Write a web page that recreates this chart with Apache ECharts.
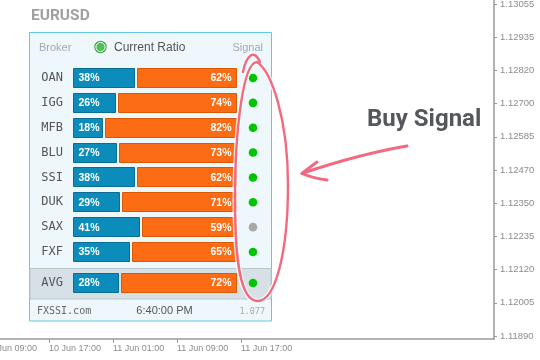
<!DOCTYPE html>
<html><head><meta charset="utf-8">
<script src="https://cdn.jsdelivr.net/npm/echarts@6/dist/echarts.min.js"></script>
<style>html,body{margin:0;padding:0;background:#fff}#c{width:540px;height:360px}</style>
</head><body><div id="c"></div>
<script>
// ---- data ----
const symbol = 'EURUSD';
const brokers = ['OAN', 'IGG', 'MFB', 'BLU', 'SSI', 'DUK', 'SAX', 'FXF'];
const longPct = [38, 26, 18, 27, 38, 29, 41, 35];
const shortPct = [62, 74, 82, 73, 62, 71, 59, 65];
const signals = ['buy', 'buy', 'buy', 'buy', 'buy', 'buy', 'neutral', 'buy'];
const avgLabel = ['AVG'];
const avgLong = [28];
const avgShort = [72];
const avgSignal = ['buy'];
const priceTicks = ['1.11890', '1.12005', '1.12120', '1.12235', '1.12350', '1.12470', '1.12585', '1.12700', '1.12820', '1.12935', '1.13055'];
const timeTicks = ['10 Jun 09:00', '10 Jun 17:00', '11 Jun 01:00', '11 Jun 09:00', '11 Jun 17:00'];
const footer = { site: 'FXSSI.com', time: '6:40:00 PM', version: '1.077' };

const signalColor = { buy: '#00c400', neutral: '#a8a8a8', sell: '#e03020' };

function makeRender(longArr, shortArr, sigArr) {
  return function (params, api) {
    const i = params.dataIndex;
    const cat = api.value(1);
    const p = api.value(0);
    const c0 = api.coord([0, cat]);
    const cp = api.coord([p, cat]);
    const c1 = api.coord([p + shortArr[i], cat]);
    const h = 20, gap = 3;
    const y = Math.round(c0[1] - h / 2) + 0.5;
    const x0 = Math.round(c0[0]) + 0.5;
    const xp = Math.round(cp[0]) + 0.5;
    const x1 = Math.round(c1[0]) + gap + 0.5;
    return {
      type: 'group',
      children: [
        { type: 'rect', shape: { x: x0, y: y, width: xp - x0, height: h - 1 },
          style: { fill: '#0b8cba', stroke: '#0a6d92', lineWidth: 1 } },
        { type: 'rect', shape: { x: xp + gap, y: y, width: x1 - xp - gap, height: h - 1 },
          style: { fill: '#fb6c14', stroke: '#d85a05', lineWidth: 1 } },
        { type: 'text', style: { text: longArr[i] + '%', x: x0 + 5, y: c0[1] + 0.5,
          fill: '#fff', font: 'bold 10.5px "Liberation Sans", Arial, sans-serif',
          textAlign: 'left', textVerticalAlign: 'middle' } },
        { type: 'text', style: { text: shortArr[i] + '%', x: x1 - 5, y: c0[1] + 0.5,
          fill: '#fff', font: 'bold 10.5px "Liberation Sans", Arial, sans-serif',
          textAlign: 'right', textVerticalAlign: 'middle' } },
        { type: 'circle', shape: { cx: 253, cy: c0[1], r: 4.3 },
          style: { fill: signalColor[sigArr[i]] } }
      ]
    };
  };
}

// hand-drawn annotation strokes (cubic / quadratic segments)
const loopSegs = [
  [257, 62, 272, 72, 288, 120, 288, 185],
  [288, 185, 288, 250, 276, 302, 257, 301],
  [257, 301, 240, 300, 235, 260, 235, 200],
  [235, 200, 235, 130, 243, 62, 257, 62],
  [243, 72, 246, 56, 254, 48, 260, 62]
];
const arrowSegs = [
  [407, 146, 360, 154, null, null, 303, 173],
  [317, 162, 310, 167, null, null, 302, 173.5],
  [302, 173.5, 312, 178, null, null, 327, 180]
];
function strokes(segs, color, width, z, opacity) {
  return segs.map(s => {
    const shape = { x1: s[0], y1: s[1], cpx1: s[2], cpy1: s[3], x2: s[6], y2: s[7] };
    if (s[4] != null) { shape.cpx2 = s[4]; shape.cpy2 = s[5]; }
    return { type: 'bezierCurve', z: z, shape: shape,
      style: { fill: null, stroke: color, lineWidth: width, lineCap: 'round', opacity: opacity == null ? 1 : opacity } };
  });
}

const chart = echarts.init(document.getElementById('c'), null, { renderer: 'canvas' });

const rowH = 24.857;
const axisFont = '"Liberation Sans", Arial, sans-serif';
const option = {
  animation: false,
  backgroundColor: '#ffffff',
  grid: [
    { left: -15, right: 46, top: 0, bottom: 21, outerBoundsMode: 'none', containLabel: false },
    { left: 73, width: 160, top: 78 - rowH / 2, height: rowH * 8, outerBoundsMode: 'none' },
    { left: 73, width: 160, top: 283 - rowH / 2, height: rowH, outerBoundsMode: 'none' }
  ],
  xAxis: [
    { gridIndex: 0, type: 'value', min: 0, max: 509 / 64,
      axisLine: { show: true, onZero: false, lineStyle: { color: '#9a9a9a', width: 1.5 } },
      axisTick: { show: true, length: 4, customValues: [0, 1, 2, 3, 4], lineStyle: { color: '#9a9a9a' } },
      splitLine: { show: false },
      axisLabel: { customValues: [0, 1, 2, 3, 4], align: 'left', margin: 5,
        color: '#8c8c8c', fontSize: 9, fontFamily: axisFont,
        formatter: v => timeTicks[Math.round(v)] || '' } },
    { gridIndex: 1, type: 'value', min: 0, max: 100, show: false },
    { gridIndex: 2, type: 'value', min: 0, max: 100, show: false }
  ],
  yAxis: [
    { gridIndex: 0, type: 'value', position: 'right', min: -0.0904, max: 10.1205,
      axisLine: { show: true, onZero: false, lineStyle: { color: '#9a9a9a', width: 1.5 } },
      axisTick: { show: true, length: 3, customValues: priceTicks.map((_, i) => i), lineStyle: { color: '#9a9a9a' } },
      splitLine: { show: false },
      axisLabel: { customValues: priceTicks.map((_, i) => i), margin: 6,
        color: '#8c8c8c', fontSize: 9.5, fontFamily: axisFont,
        formatter: v => priceTicks[Math.round(v)] || '' } },
    { gridIndex: 1, type: 'category', data: brokers, inverse: true,
      axisLine: { show: false }, axisTick: { show: false },
      axisLabel: { margin: 10, color: '#555', fontSize: 12, fontFamily: '"DejaVu Sans Mono", monospace' } },
    { gridIndex: 2, type: 'category', data: avgLabel, inverse: true,
      axisLine: { show: false }, axisTick: { show: false },
      axisLabel: { margin: 10, color: '#555', fontSize: 12, fontFamily: '"DejaVu Sans Mono", monospace' } }
  ],
  series: [
    { type: 'line', xAxisIndex: 0, yAxisIndex: 0, data: [], silent: true },
    { type: 'custom', xAxisIndex: 1, yAxisIndex: 1, z: 5,
      renderItem: makeRender(longPct, shortPct, signals),
      encode: { x: 0, y: 1 },
      data: longPct.map((v, i) => [v, i]) },
    { type: 'custom', xAxisIndex: 2, yAxisIndex: 2, z: 5,
      renderItem: makeRender(avgLong, avgShort, avgSignal),
      encode: { x: 0, y: 1 },
      data: avgLong.map((v, i) => [v, i]) }
  ],
  graphic: [
    { type: 'text', z: 1, style: { text: symbol, x: 31, y: 16, fill: '#a0a0a0',
      font: 'bold 15.5px Roboto, "Liberation Sans", sans-serif', textVerticalAlign: 'middle' } },
    // panel box
    { type: 'rect', z: 0, shape: { x: 29.5, y: 32.5, width: 242, height: 288.5 },
      style: { fill: '#edf7fc', stroke: '#62c8ea', lineWidth: 1 } },
    { type: 'rect', z: 0, shape: { x: 30, y: 268.5, width: 241, height: 30.5 },
      style: { fill: '#d7e0e6', stroke: '#bcc8d0', lineWidth: 1 } },
    // header
    { type: 'text', z: 1, style: { text: 'Broker', x: 39, y: 48, fill: '#a2aab0',
      font: '11px "Liberation Sans", Arial, sans-serif', textVerticalAlign: 'middle' } },
    { type: 'circle', z: 1, shape: { cx: 100.5, cy: 47, r: 6.2 }, style: { fill: '#3f9f45' } },
    { type: 'circle', z: 1, shape: { cx: 100.5, cy: 47, r: 4.6 }, style: { fill: '#4fbf55', stroke: '#ffffff', lineWidth: 1 } },
    { type: 'text', z: 1, style: { text: 'Current Ratio', x: 114, y: 47.5, fill: '#555',
      font: '12px "Liberation Sans", Arial, sans-serif', textVerticalAlign: 'middle' } },
    { type: 'text', z: 1, style: { text: 'Signal', x: 263, y: 48, fill: '#a2aab0',
      font: '11px "Liberation Sans", Arial, sans-serif', textAlign: 'right', textVerticalAlign: 'middle' } },
    // footer
    { type: 'text', z: 1, style: { text: footer.site, x: 37, y: 311, fill: '#666',
      font: '10px "DejaVu Sans Mono", monospace', textVerticalAlign: 'middle' } },
    { type: 'text', z: 1, style: { text: footer.time, x: 164.5, y: 311, fill: '#555',
      font: '11px "Liberation Sans", Arial, sans-serif', textAlign: 'center', textVerticalAlign: 'middle' } },
    { type: 'text', z: 1, style: { text: footer.version, x: 265, y: 312, fill: '#aaa',
      font: '8.5px "DejaVu Sans Mono", monospace', textAlign: 'right', textVerticalAlign: 'middle' } },
    // annotation
    { type: 'text', z: 50, style: { text: 'Buy Signal', x: 367, y: 120, fill: '#54585d',
      font: 'bold 24px Roboto, "Liberation Sans", sans-serif', textVerticalAlign: 'middle' } }
  ].concat(
    strokes(loopSegs, '#ffffff', 5, 49, 0.8),
    strokes(loopSegs, '#f26a80', 2.4, 50),
    strokes(arrowSegs, '#f26a80', 3, 50)
  )
};
chart.setOption(option);
</script>
</body></html>
